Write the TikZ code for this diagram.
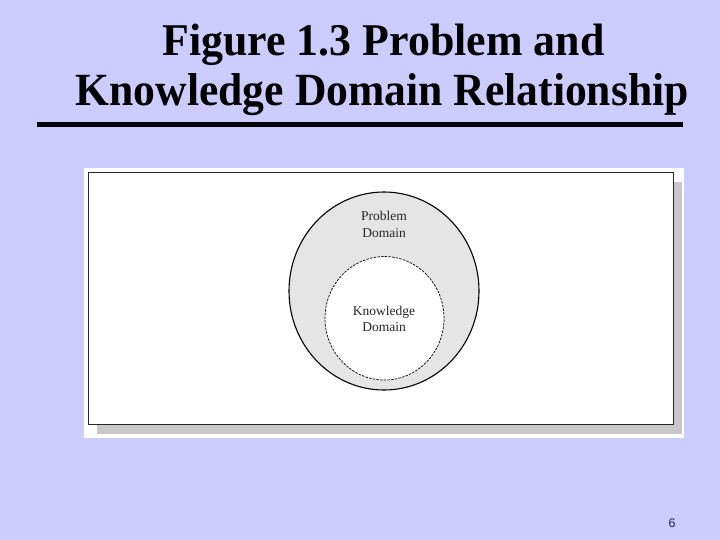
\documentclass[tikz,border=0pt]{standalone}
\usepackage{fontspec}
\setmainfont{Liberation Serif}
\newfontfamily\pgnumfont{Liberation Sans}
\usetikzlibrary{shapes.geometric}
\definecolor{slidebg}{RGB}{204,204,255}
\definecolor{shadowgray}{RGB}{200,200,200}
\definecolor{domfill}{RGB}{229,229,229}
\definecolor{pgnum}{RGB}{30,30,70}
\tikzset{
  titleline/.style={inner sep=0pt, anchor=base, text=black},
  domtext/.style={inner sep=0pt, align=center, text=black!85, font=\fontsize{13.5pt}{16.5pt}\selectfont},
}
\begin{document}
\begin{tikzpicture}[x=1pt,y=-1pt]
\useasboundingbox (0,0) rectangle (720,540);
\fill[slidebg] (0,0) rectangle (720,540);
% title
\node[titleline] (t1) at (383.5,55.5) {\resizebox{442pt}{31.5pt}{\fontsize{44pt}{44pt}\bfseries Figure 1.3 Problem and}};
\node[titleline] (t2) at (382.3,105.5) {\resizebox{613pt}{32pt}{\fontsize{45pt}{45pt}\bfseries Knowledge Domain Relationship}};
\fill[black] (36.5,122.3) rectangle (682.6,126.8);
% figure frame
\fill[white] (84,168) rectangle (684,438);
\fill[shadowgray] (97,182) rectangle (682,434);
\filldraw[fill=white, draw=black!85, line width=1.5pt] (88.5,172.5) rectangle (673.5,424.5);
% domains
\node[ellipse, draw=black, line width=1.1pt, fill=domfill, minimum width=190pt, minimum height=198pt, inner sep=0pt] (pd) at (384,291) {};
\node[ellipse, draw=black, line width=0.7pt, dash pattern=on 2.5pt off 1.2pt, fill=white, minimum width=119pt, minimum height=123.5pt, inner sep=0pt] (kd) at (384.5,318.3) {};
\node[domtext] (pdl) at (384,224.5) {Problem\\Domain};
\node[domtext] (kdl) at (384,318.8) {Knowledge\\Domain};
% page number
\node[inner sep=0pt, text=pgnum, font=\pgnumfont\fontsize{12.5pt}{12.5pt}\selectfont] (pg) at (672,523) {6};
\end{tikzpicture}
\end{document}
